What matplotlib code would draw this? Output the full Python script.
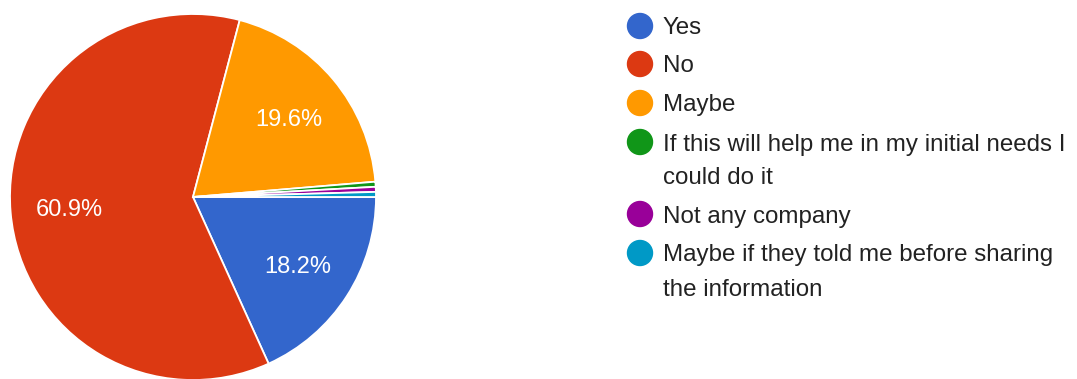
import matplotlib
matplotlib.use("Agg")
import matplotlib.pyplot as plt
from matplotlib.patches import Circle

# survey answers, in drawing order (clockwise from 3 o'clock)
labels = [
    "Yes",
    "No",
    "Maybe",
    "If this will help me in my initial needs I\ncould do it",
    "Not any company",
    "Maybe if they told me before sharing\nthe information",
]
counts = [41, 137, 44, 1, 1, 1]
colors = ["#3366CC", "#DC3912", "#FF9900", "#109618", "#990099", "#0099C6"]

plt.rcParams["font.family"] = ["Liberation Sans", "DejaVu Sans"]

W, H = 1077, 379
fig = plt.figure(figsize=(W / 100, H / 100), dpi=100)
fig.patch.set_facecolor("white")

# pie axes placed in pixels: centre (193, 197), radius 183
cx, cy, r = 193, 197, 183
ax = fig.add_axes([(cx - r) / W, (H - cy - r) / H, 2 * r / W, 2 * r / H])


def pct_label(p):
    return f"{p:.1f}%" if p > 5 else ""


wedges, _, autotexts = ax.pie(
    counts, colors=colors, startangle=0, counterclock=False,
    autopct=pct_label, pctdistance=0.68,
    wedgeprops=dict(edgecolor="white", linewidth=1.3),
    textprops=dict(color="white", fontsize=17))
for t in autotexts:
    t.set_va("center_baseline")
ax.set_xlim(-1, 1)
ax.set_ylim(-1, 1)
ax.set_aspect("equal")
ax.axis("off")

# legend drawn by hand in figure pixels
lax = fig.add_axes([0, 0, 1, 1])
lax.set_xlim(0, W)
lax.set_ylim(H, 0)
lax.axis("off")
rows = [26, 64, 103, 142, 214, 253]
line_gap = 34
for lab, col, y in zip(labels, colors, rows):
    lax.add_patch(Circle((640, y), 12.5, color=col))
    for k, line in enumerate(lab.split("\n")):
        lax.text(663, y + 8.5 + k * line_gap, line, fontsize=17.4,
                 color="#222222", ha="left", va="baseline")

fig.savefig("out.png", dpi=100, facecolor="white")
